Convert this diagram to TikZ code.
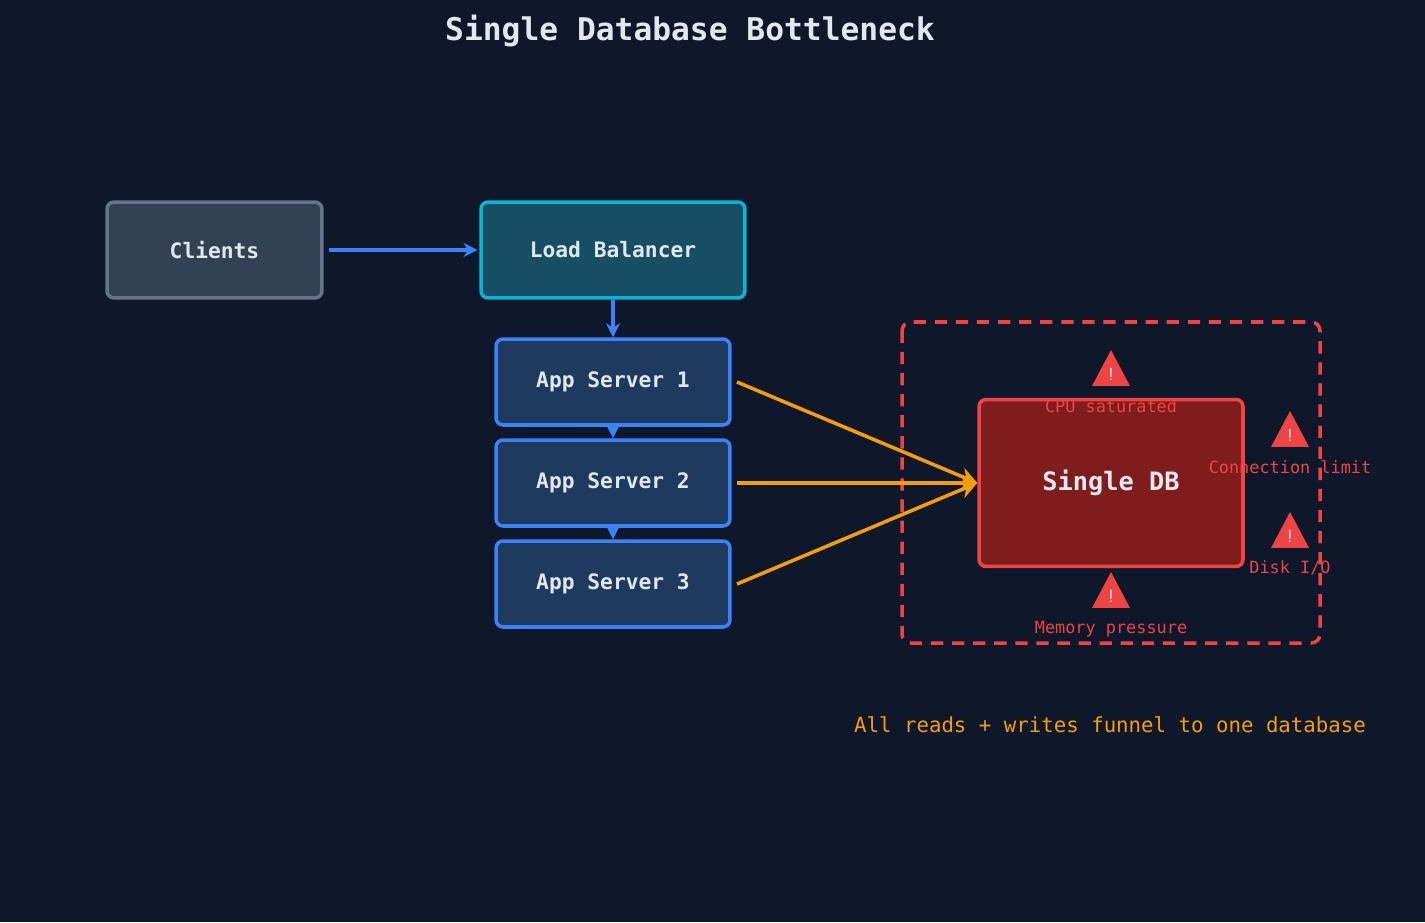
\documentclass[tikz,border=0pt]{standalone}
\usepackage{fontspec}
\setmonofont{DejaVu Sans Mono}
\usetikzlibrary{arrows.meta,positioning,shapes.geometric}
\definecolor{bg}{HTML}{0F172A}
\definecolor{txt}{HTML}{E2E8F0}
\definecolor{clientfill}{HTML}{334155}
\definecolor{clientline}{HTML}{64748B}
\definecolor{lbfill}{HTML}{164E63}
\definecolor{lbline}{HTML}{06B6D4}
\definecolor{appfill}{HTML}{1E3A5F}
\definecolor{appline}{HTML}{3B82F6}
\definecolor{dbfill}{HTML}{7F1D1D}
\definecolor{warn}{HTML}{EF4444}
\definecolor{funnel}{HTML}{F59E0B}
\tikzset{
  box/.style={draw, rounded corners=4pt, line width=2pt, text=txt,
    font=\ttfamily\bfseries\fontsize{12.1}{14}\selectfont, inner sep=0pt},
  flow/.style={-{Stealth[length=8pt,width=8pt]}, line width=2pt, draw=appline},
  load/.style={-{Stealth[length=10pt,width=10pt]}, line width=2pt, draw=funnel},
  alert/.style={isosceles triangle, isosceles triangle apex angle=60, shape border rotate=90,
    fill=warn, minimum height=0.72cm, minimum width=0.76cm, isosceles triangle stretches,
    inner sep=0pt, text=white, font=\sffamily\fontsize{10}{11}\selectfont},
  alertlbl/.style={text=warn, font=\ttfamily\fontsize{9.6}{11}\selectfont},
}
\begin{document}
\begin{tikzpicture}[x=0.02cm,y=-0.02cm]
\fill[bg] (0,0) rectangle (1425,922);
\useasboundingbox (0,0) rectangle (1425,922);
\node[text=txt, font=\ttfamily\bfseries\fontsize{17.8}{20}\selectfont] (title) at (690,31) {Single Database Bottleneck};

% front tier
\node[box, fill=clientfill, draw=clientline, minimum width=4.3cm, minimum height=1.92cm] (clients) at (214.5,250) {Clients};
\node[box, fill=lbfill, draw=lbline, minimum width=5.28cm, minimum height=1.92cm] (lb) at (613,250) {Load Balancer};
\node[box, fill=appfill, draw=appline, minimum width=4.68cm, minimum height=1.72cm] (app1) at (613,382) {App Server 1};
\node[box, fill=appfill, draw=appline, minimum width=4.68cm, minimum height=1.72cm] (app2) at (613,483) {App Server 2};
\node[box, fill=appfill, draw=appline, minimum width=4.68cm, minimum height=1.72cm] (app3) at (613,584) {App Server 3};

% database zone
\draw[warn, line width=2pt, dash pattern=on 7pt off 5pt, rounded corners=5pt] (902,322) rectangle (1320,643);
\node[box, fill=dbfill, draw=warn, minimum width=5.28cm, minimum height=3.34cm,
  font=\ttfamily\bfseries\fontsize{14.4}{16}\selectfont] (db) at (1111,483) {Single DB};

\node[alert] (w1) at (1111,374) {!};
\node[alertlbl] (l1) at (1111,406) {CPU saturated};
\node[alert] (w2) at (1290,435) {!};
\node[alertlbl] (l2) at (1290,467) {Connection limit};
\node[alert] (w3) at (1290,536) {!};
\node[alertlbl] (l3) at (1290,568) {Disk I/O};
\node[alert] (w4) at (1111,596) {!};
\node[alertlbl] (l4) at (1111,629) {Memory pressure};

\node[text=funnel, font=\ttfamily\fontsize{11.8}{13}\selectfont] (note) at (1110,725) {All reads + writes funnel to one database};

%arrows
\draw[flow] ([xshift=3pt]clients.east) -- ([xshift=-1pt]lb.west);
\draw[flow] (lb) -- (app1);
\draw[flow] (app1) -- (app2);
\draw[flow] (app2) -- (app3);
\draw[load] ([xshift=3pt]app1.east) -- (db.west);
\draw[load] ([xshift=3pt]app2.east) -- (db.west);
\draw[load] ([xshift=3pt]app3.east) -- (db.west);
\end{tikzpicture}
\end{document}
